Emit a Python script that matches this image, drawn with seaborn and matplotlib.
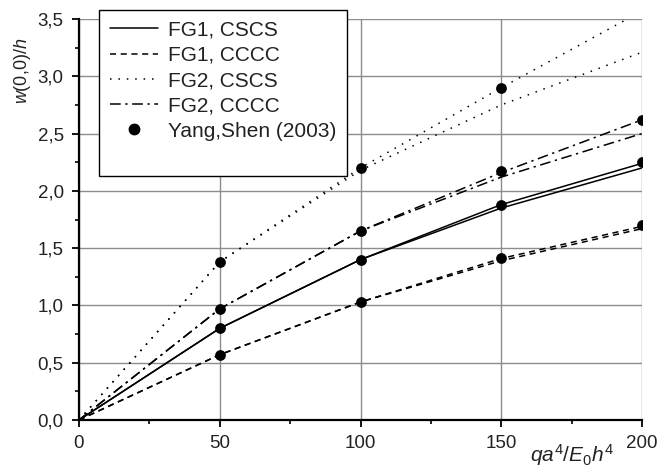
import numpy as np
import pandas as pd
import matplotlib
matplotlib.use("Agg")
import matplotlib.pyplot as plt
from matplotlib.lines import Line2D
import seaborn as sns

# ---- data ----
x_vals = [0, 50, 100, 150, 200]

fg1_cscs_a = [0.0, 0.80, 1.40, 1.88, 2.24]
fg1_cscs_b = [0.0, 0.80, 1.40, 1.85, 2.20]
fg1_cccc_a = [0.0, 0.57, 1.03, 1.41, 1.69]
fg1_cccc_b = [0.0, 0.57, 1.03, 1.39, 1.67]
fg2_cscs_a = [0.0, 1.38, 2.20, 2.90, 3.57]
fg2_cscs_b = [0.0, 1.38, 2.18, 2.75, 3.21]
fg2_cccc_a = [0.0, 0.97, 1.65, 2.16, 2.62]
fg2_cccc_b = [0.0, 0.97, 1.65, 2.12, 2.50]

yang_x = [50, 50, 50, 50, 100, 100, 100, 100, 150, 150, 150, 150, 200, 200, 200]
yang_y = [1.38, 0.97, 0.80, 0.57, 2.20, 1.65, 1.40, 1.03, 2.90, 2.17, 1.88, 1.41, 2.62, 2.25, 1.70]

x_ticks = [0, 50, 100, 150, 200]
x_tick_labels = ["0", "50", "100", "150", "200"]
y_ticks = [0.0, 0.5, 1.0, 1.5, 2.0, 2.5, 3.0, 3.5]
y_tick_labels = ["0,0", "0,5", "1,0", "1,5", "2,0", "2,5", "3,0", "3,5"]

legend_labels = ["FG1, CSCS", "FG1, CCCC", "FG2, CSCS", "FG2, CCCC", "Yang,Shen (2003)"]

# ---- style ----
sns.set_theme(style="white")
plt.rcParams["font.family"] = ["Liberation Sans", "DejaVu Sans"]
plt.rcParams["mathtext.fontset"] = "custom"
plt.rcParams["mathtext.rm"] = "Liberation Sans"
plt.rcParams["mathtext.it"] = "Liberation Sans:italic"

fig = plt.figure(figsize=(6.58, 4.71), dpi=100)
ax = fig.add_axes([79 / 658, 51 / 471, 563 / 658, 401 / 471])

ls_solid = "-"
ls_dash = (0, (4, 3))
ls_dot = (0, (1, 4.5))
ls_dashdot = (0, (7, 3, 1.5, 3))

series = [
    (fg1_cscs_a, ls_solid),
    (fg1_cscs_b, ls_solid),
    (fg1_cccc_a, ls_dash),
    (fg1_cccc_b, ls_dash),
    (fg2_cscs_a, ls_dot),
    (fg2_cscs_b, ls_dot),
    (fg2_cccc_a, ls_dashdot),
    (fg2_cccc_b, ls_dashdot),
]

for yv, ls in series:
    df = pd.DataFrame({"x": x_vals, "y": yv})
    sns.lineplot(data=df, x="x", y="y", ax=ax, color="black", linestyle=ls,
                 linewidth=1.1, legend=False, sort=False, estimator=None)

sns.scatterplot(x=yang_x, y=yang_y, ax=ax, color="black", s=60,
                edgecolor="black", linewidth=0, zorder=5, legend=False)

ax.set_xlim(0, 200)
ax.set_ylim(0, 3.5)
ax.set_xticks(x_ticks)
ax.set_xticklabels(x_tick_labels)
ax.set_yticks(y_ticks)
ax.set_yticklabels(y_tick_labels)
ax.set_xticks([25, 75, 125, 175], minor=True)
ax.set_yticks([0.25, 0.75, 1.25, 1.75, 2.25, 2.75, 3.25], minor=True)
ax.tick_params(axis="both", which="major", labelsize=13.5, direction="out",
               length=5, width=1.3, color="black", pad=6, labelcolor="#222222")
ax.tick_params(axis="both", which="minor", direction="out", length=3,
               width=1.2, color="black")
ax.tick_params(axis="x", which="both", bottom=True)
ax.tick_params(axis="y", which="both", left=True)

ax.grid(True, which="major", color="#8c8c8c", linewidth=1.0)
ax.set_axisbelow(True)
for s in ["top", "right"]:
    ax.spines[s].set_visible(False)
for s in ["left", "bottom"]:
    ax.spines[s].set_color("black")
    ax.spines[s].set_linewidth(1.6)
    ax.spines[s].set_zorder(6)

ax.set_xlabel("")
ax.set_ylabel("")
ax.text(-0.101, 0.87, r"$w$(0,0)/$h$", transform=ax.transAxes, rotation=90,
        ha="center", va="center", fontsize=13, color="#222222")
ax.text(0.876, -0.088, r"$qa^4/E_0h^4$", transform=ax.transAxes,
        ha="center", va="center", fontsize=15, color="#222222")

handles = [
    Line2D([], [], color="black", linestyle=ls_solid, linewidth=1.1),
    Line2D([], [], color="black", linestyle=ls_dash, linewidth=1.1),
    Line2D([], [], color="black", linestyle=ls_dot, linewidth=1.1),
    Line2D([], [], color="black", linestyle=ls_dashdot, linewidth=1.1),
    Line2D([], [], color="black", linestyle="none", marker="o", markersize=7.5),
    Line2D([], [], linestyle="none"),
]
leg = ax.legend(handles, legend_labels + [" "], loc="upper left",
                bbox_to_anchor=(0.036, 1.022), borderaxespad=0, frameon=True,
                fancybox=False, framealpha=1, edgecolor="black", fontsize=15,
                handlelength=2.3, handletextpad=0.5, labelspacing=0.3,
                borderpad=0.5, numpoints=1)
leg.get_frame().set_linewidth(1.0)
leg.set_zorder(10)
for t in leg.get_texts():
    t.set_color("#222222")

fig.savefig("out.png", dpi=100, facecolor="white")
